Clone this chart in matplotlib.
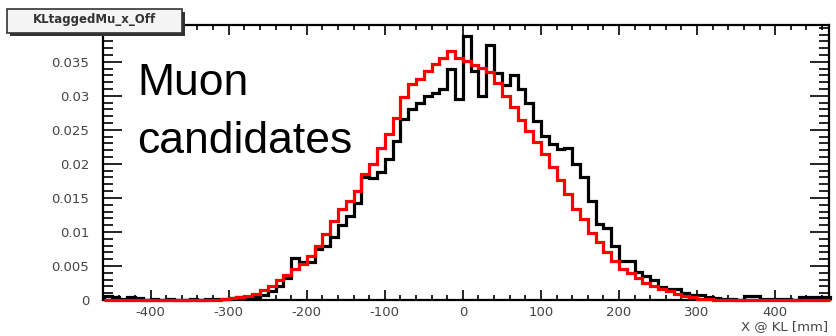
import numpy as np
import matplotlib
matplotlib.use("Agg")
import matplotlib.pyplot as plt
from matplotlib.patches import Rectangle
from matplotlib.ticker import MultipleLocator, FixedLocator

plt.rcParams["axes.unicode_minus"] = False

# histogram binning: 10 mm bins from -460 to 470 mm
bin_lo, bin_hi, bin_w = -460, 470, 10

# black histogram (data)
black_vals = [
    0.0006, 0.0005, 0.0002, 0.0004, 0.0003, 0.0, 0.0001, 0.0, 0.0001, 0.0,
    0.0, 0.0001, 0.0, 0.0001, 0.0002, 0.0002, 0.0003, 0.0004, 0.0005, 0.0005,
    0.0008, 0.0013, 0.0020, 0.0032, 0.0062, 0.0056, 0.0056, 0.0075, 0.0079, 0.0092,
    0.0110, 0.0124, 0.0143, 0.0180, 0.0179, 0.0188, 0.0207, 0.0234, 0.0266, 0.0280,
    0.0289, 0.0299, 0.0304, 0.0310, 0.0340, 0.0296, 0.0388, 0.0336, 0.0300, 0.0375,
    0.0334, 0.0316, 0.0330, 0.0310, 0.0290, 0.0263, 0.0241, 0.0229, 0.0222, 0.0224,
    0.0200, 0.0180, 0.0145, 0.0112, 0.0106, 0.0080, 0.0058, 0.0057, 0.0041, 0.0035,
    0.0030, 0.0019, 0.0016, 0.0016, 0.0011, 0.0008, 0.0008, 0.0005, 0.0003, 0.0001,
    0.0001, 0.0, 0.0006, 0.0006, 0.0002, 0.0001, 0.0002, 0.0001, 0.0, 0.0004,
    0.0004, 0.0004, 0.0005,
]

# red histogram (reference)
red_vals = [0.0] * 15 + [
    0.0002, 0.0003, 0.0004, 0.0006, 0.0009, 0.0015, 0.0021, 0.0029, 0.0036, 0.0045,
    0.0053, 0.0065, 0.0079, 0.0097, 0.0116, 0.0134, 0.0146, 0.0160, 0.0185, 0.0200,
    0.0224, 0.0244, 0.0268, 0.0298, 0.0318, 0.0325, 0.0336, 0.0346, 0.0356, 0.0366,
    0.0356, 0.0351, 0.0345, 0.0341, 0.0335, 0.0319, 0.0300, 0.0284, 0.0265, 0.0248,
    0.0232, 0.0215, 0.0195, 0.0176, 0.0155, 0.0134, 0.0119, 0.0099, 0.0085, 0.0070,
    0.0057, 0.0045, 0.0039, 0.0032, 0.0025, 0.0020, 0.0016, 0.0013, 0.0009, 0.0006,
    0.0004, 0.0002, 0.0001,
] + [0.0] * 15

x_ticks = [-400, -300, -200, -100, 0, 100, 200, 300, 400]
y_ticks = [0, 0.005, 0.01, 0.015, 0.02, 0.025, 0.03, 0.035]
y_labels = ["0", "0.005", "0.01", "0.015", "0.02", "0.025", "0.03", "0.035"]

edges = np.arange(bin_lo, bin_hi + bin_w, bin_w)

fig = plt.figure(figsize=(8.37, 3.36), dpi=100)
ax = fig.add_axes([103 / 837, 1 - 300 / 336, (829 - 103) / 837, (300 - 25) / 336])

ax.stairs(black_vals, edges, color="black", linewidth=2.3, zorder=3, clip_on=False)
ax.stairs(red_vals, edges, color="#ff0000", linewidth=2.3, zorder=4, clip_on=False)

ax.set_xlim(-461, 469)
ax.set_ylim(0, 0.0404)

ax.xaxis.set_major_locator(FixedLocator(x_ticks))
ax.xaxis.set_minor_locator(MultipleLocator(20))
ax.yaxis.set_major_locator(FixedLocator(y_ticks))
ax.yaxis.set_minor_locator(MultipleLocator(0.001))
ax.set_xticklabels([str(t) for t in x_ticks])
ax.set_yticklabels(y_labels)

ax.tick_params(axis="both", which="both", direction="in", top=True, right=True,
               color="black", width=1.2, labelcolor="#444444", labelsize=9.5)
ax.tick_params(axis="x", which="major", length=7.5, pad=4)
ax.tick_params(axis="x", which="minor", length=3.8)
ax.tick_params(axis="y", which="major", length=14, pad=10)
ax.tick_params(axis="y", which="minor", length=7)
for s in ax.spines.values():
    s.set_linewidth(1.6)

# overlay annotation
fig.text(137 / 837, 1 - 95 / 336, "Muon", fontsize=32,
         family="Liberation Sans", ha="left", va="baseline")
fig.text(137 / 837, 1 - 153 / 336, "candidates", fontsize=32,
         family="Liberation Sans", ha="left", va="baseline")

fig.text(828 / 837, 1 - 327 / 336, "X @ KL [mm]", fontsize=9.5, color="#444444",
         ha="right", va="center")

# title box with shadow
fig.patches.append(Rectangle((10 / 837, 1 - 36 / 336), 175 / 837, 24 / 336,
                             transform=fig.transFigure, facecolor="#333333",
                             edgecolor="none"))
fig.patches.append(Rectangle((7 / 837, 1 - 33 / 336), 175 / 837, 24 / 336,
                             transform=fig.transFigure, facecolor="#f4f4f4",
                             edgecolor="#333333", linewidth=1.2))
fig.text(95 / 837, 1 - 20 / 336, "KLtaggedMu_x_Off", fontsize=8.5, fontweight="bold",
         color="#333333", ha="center", va="center")

fig.savefig("out.png", dpi=100)
